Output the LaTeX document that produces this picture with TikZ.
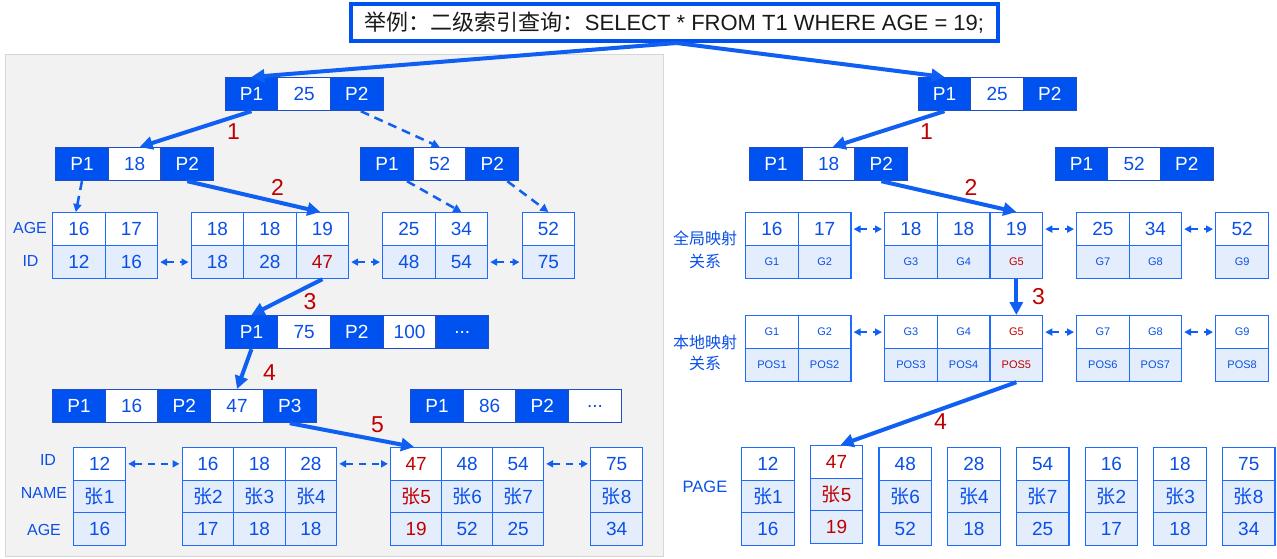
\documentclass[tikz,border=0pt]{standalone}
\usepackage{fontspec}
\setmainfont{Liberation Sans}
\newfontfamily\cjk{Noto Sans CJK SC}
\usetikzlibrary{arrows.meta}
\definecolor{pblue}{HTML}{0052F0}
\definecolor{pedge}{HTML}{1F4FC8}
\definecolor{tblue}{HTML}{0A50E8}
\definecolor{bblue}{HTML}{1E6BFF}
\definecolor{lfill}{HTML}{E4EDFB}
\definecolor{myred}{HTML}{C00000}
\definecolor{panelfill}{HTML}{F2F2F2}
\definecolor{paneledge}{HTML}{D6D6D6}
\definecolor{ablue}{HTML}{0F5FF2}
\newcommand\rd{\color{myred}}
\newcommand\Z{{\cjk 张}}
\newcommand\dotsmark{.{}.{}.}
\newcommand\fs[1]{\fontsize{#1}{#1}\selectfont}
\tikzset{
  cellbase/.style={draw, inner sep=0pt, minimum height=33, anchor=north west, line width=1.2pt},
  pc/.style={cellbase, fill=pblue, draw=pedge, text=white, font=\fs{19}, minimum width=52.7},
  kc/.style={cellbase, fill=white, draw=pedge, text=tblue, font=\fs{19}, minimum width=52.7},
  lt/.style={cellbase, fill=white, draw=bblue, text=tblue, font=\fs{19}},
  lb/.style={cellbase, fill=lfill, draw=bblue, text=tblue, font=\fs{19}},
  lts/.style={lt, font=\fs{11}},
  lbs/.style={lb, font=\fs{11}},
  thickarrow/.style={draw=ablue, line width=4pt, -{Triangle[length=13pt,width=13pt]}},
  dsharrow/.style={draw=ablue, line width=2.5pt, dash pattern=on 9pt off 6pt, -{Triangle[length=8pt,width=8pt]}},
  linkarrow/.style={draw=ablue, line width=2.5pt, dash pattern=on 7pt off 6pt, {Triangle[length=7pt,width=7pt]}-{Triangle[length=7pt,width=7pt]}, shorten <=2pt, shorten >=2pt},
  stepnum/.style={text=myred, font=\fs{23}, inner sep=0pt},
  lab/.style={text=tblue, font=\fs{16}, inner sep=0pt},
}
\newcommand\prow[4]{\foreach[count=\i] \s/\t in {#4}{\node[\s] (#1-\i) at ({#2+(\i-1)*52.7},#3) {\t};}}
\newcommand\leafii[7]{\foreach[count=\i] \a/\b in {#7}{%
  \node[#5, minimum width=#4] (#1-t\i) at ({#2+(\i-1)*#4},#3) {\a};
  \node[#6, minimum width=#4] (#1-b\i) at ({#2+(\i-1)*#4},{#3+33}) {\b};}}
\newcommand\leafiii[5]{\foreach[count=\i] \a/\b/\c in {#5}{%
  \node[lt, minimum width=#4, minimum height=32.5] (#1-t\i) at ({#2+(\i-1)*#4},#3) {\a};
  \node[lb, minimum width=#4, minimum height=32.5] (#1-m\i) at ({#2+(\i-1)*#4},{#3+32.5}) {\b};
  \node[lb, minimum width=#4, minimum height=32.5] (#1-b\i) at ({#2+(\i-1)*#4},{#3+65}) {\c};}}
\begin{document}
\begin{tikzpicture}[x=1pt,y=-1pt]
\useasboundingbox (0,0) rectangle (1277,558);
\fill[white] (0,0) rectangle (1277,558);
\node[fill=panelfill, draw=paneledge, line width=1pt, minimum width=658, minimum height=502, anchor=north west, inner sep=0pt] (panel) at (5,54) {};

% ---------- left tree ----------
\prow{lroot}{224.5}{77}{pc/P1,kc/25,pc/P2}
\prow{ltwoa}{55}{147}{pc/P1,kc/18,pc/P2}
\prow{ltwob}{360}{147}{pc/P1,kc/52,pc/P2}
\leafii{lfa}{52}{212}{52.5}{lt}{lb}{16/12,17/16}
\leafii{lfb}{190.5}{212}{52.5}{lt}{lb}{18/18,18/28,19/{\rd 47}}
\leafii{lfc}{382}{212}{52.5}{lt}{lb}{25/48,34/54}
\leafii{lfd}{521.5}{212}{52.5}{lt}{lb}{52/75}
\prow{lthree}{224.5}{315}{pc/P1,kc/75,pc/P2,kc/100,pc/\dotsmark}
\prow{lfoura}{52}{389}{pc/P1,kc/16,pc/P2,kc/47,pc/P3}
\prow{lfourb}{410}{389}{pc/P1,kc/86,pc/P2,kc/\dotsmark}
\leafiii{bA}{73}{447}{52}{12/\Z1/16}
\leafiii{bB}{181.5}{447}{51.5}{16/\Z2/17,18/\Z3/18,28/\Z4/18}
\leafiii{bC}{390}{447}{51}{{\rd 47}/{\rd\Z5}/{\rd 19},48/\Z6/52,54/\Z7/25}
\leafiii{bD}{590}{447}{52}{75/\Z8/34}

\node[lab] (lagea) at (30,228) {AGE};
\node[lab] (lida) at (30.5,261) {ID};
\node[lab] (lidb) at (48,460) {ID};
\node[lab] (lname) at (44,493) {NAME};
\node[lab] (lageb) at (44,530) {AGE};

% ---------- right tree ----------
\prow{rroot}{917.5}{77}{pc/P1,kc/25,pc/P2}
\prow{rtwoa}{749}{147}{pc/P1,kc/18,pc/P2}
\prow{rtwob}{1054.5}{147}{pc/P1,kc/52,pc/P2}
\leafii{rga}{745}{212}{52.7}{lt}{lbs}{16/G1,17/G2}
\leafii{rgb}{884}{212}{52.7}{lt}{lbs}{18/G3,18/G4,19/{\rd G5}}
\leafii{rgc}{1076}{212}{52.5}{lt}{lbs}{25/G7,34/G8}
\leafii{rgd}{1215}{212}{53}{lt}{lbs}{52/G9}
\leafii{rla}{745}{315}{52.7}{lts}{lbs}{G1/POS1,G2/POS2}
\leafii{rlb}{884}{315}{52.7}{lts}{lbs}{G3/POS3,G4/POS4,{\rd G5}/{\rd POS5}}
\leafii{rlc}{1076}{315}{52.5}{lts}{lbs}{G7/POS6,G8/POS7}
\leafii{rld}{1215}{315}{53}{lts}{lbs}{G9/POS8}
\leafiii{pga}{741}{447}{52.5}{12/\Z1/16}
\leafiii{pgb}{809.7}{445}{52.5}{{\rd 47}/{\rd\Z5}/{\rd 19}}
\leafiii{pgc}{878.4}{447}{52.5}{48/\Z6/52}
\leafiii{pgd}{947.1}{447}{52.5}{28/\Z4/18}
\leafiii{pge}{1015.8}{447}{52.5}{54/\Z7/25}
\leafiii{pgf}{1084.5}{447}{52.5}{16/\Z2/17}
\leafiii{pgg}{1153.2}{447}{52.5}{18/\Z3/18}
\leafiii{pgh}{1221.9}{447}{52.5}{75/\Z8/34}

\node[lab, font=\fs{16}\cjk] (rgl1) at (705,238) {全局映射};
\node[lab, font=\fs{16}\cjk] (rgl2) at (705,261) {关系};
\node[lab, font=\fs{16}\cjk] (rll1) at (705,342) {本地映射};
\node[lab, font=\fs{16}\cjk] (rll2) at (705,363) {关系};
\node[lab, font=\fs{16.5}] (rpage) at (705,487) {PAGE};

% ---------- title ----------
\node[draw=pblue, line width=4pt, fill=white, minimum width=647, minimum height=37, inner sep=0pt, font=\fs{22}, text=black!90] (title) at (674.5,22.5) {{\cjk 举例：二级索引查询：}SELECT * FROM T1 WHERE AGE = 19;};
\coordinate (ts) at ([xshift=2]title.south);

% ---------- left arrows ----------
\draw[thickarrow] (ts) -- (lroot-1.north);
\draw[thickarrow] (lroot-1.south) -- ([xshift=5]ltwoa-2.north);
\draw[dsharrow] ([xshift=4]lroot-3.south) -- (ltwob-2.north);
\draw[dsharrow] (ltwoa-1.south) -- ([xshift=-3]lfa-t1.north);
\draw[thickarrow] (ltwoa-3.south) -- ([xshift=-2]lfb-t3.north);
\draw[dsharrow] ([xshift=20]ltwob-1.south) -- (lfc-t2.north);
\draw[dsharrow] ([xshift=15]ltwob-3.south) -- (lfd-t1.north);
\draw[linkarrow] (lfa-b2.east) -- (lfb-b1.west);
\draw[linkarrow] (lfb-b3.east) -- (lfc-b1.west);
\draw[linkarrow] (lfc-b2.east) -- (lfd-b1.west);
\draw[thickarrow] (lfb-b3.south) -- (lthree-1.north);
\draw[thickarrow] (lthree-1.south) -- (lfoura-4.north);
\draw[thickarrow] (lfoura-5.south) -- ([xshift=-2]bC-t1.north);
\draw[linkarrow] (bA-t1.east) -- (bB-t1.west);
\draw[linkarrow] (bB-t3.east) -- (bC-t1.west);
\draw[linkarrow] (bC-t3.east) -- (bD-t1.west);
\node[stepnum] (ls1) at (233.5,132) {1};
\node[stepnum] (ls2) at (277.5,187) {2};
\node[stepnum] (ls3) at (310,302) {3};
\node[stepnum] (ls4) at (269.5,373) {4};
\node[stepnum] (ls5) at (377.5,425) {5};

% ---------- right arrows ----------
\draw[thickarrow] (ts) -- (rroot-1.north);
\draw[thickarrow] (rroot-1.south) -- ([xshift=4]rtwoa-2.north);
\draw[thickarrow] (rtwoa-3.south) -- (rgb-t3.north);
\draw[linkarrow] (rga-t2.east) -- (rgb-t1.west);
\draw[linkarrow] (rgb-t3.east) -- (rgc-t1.west);
\draw[linkarrow] (rgc-t2.east) -- (rgd-t1.west);
\draw[thickarrow] (rgb-b3.south) -- (rlb-t3.north);
\draw[linkarrow] (rla-t2.east) -- (rlb-t1.west);
\draw[linkarrow] (rlb-t3.east) -- (rlc-t1.west);
\draw[linkarrow] (rlc-t2.east) -- (rld-t1.west);
\draw[thickarrow] (rlb-b3.south) -- ([xshift=4]pgb-t1.north);
\node[stepnum] (rs1) at (926.5,132) {1};
\node[stepnum] (rs2) at (971,187) {2};
\node[stepnum] (rs3) at (1038.5,297) {3};
\node[stepnum] (rs4) at (940.5,422) {4};
\end{tikzpicture}
\end{document}
